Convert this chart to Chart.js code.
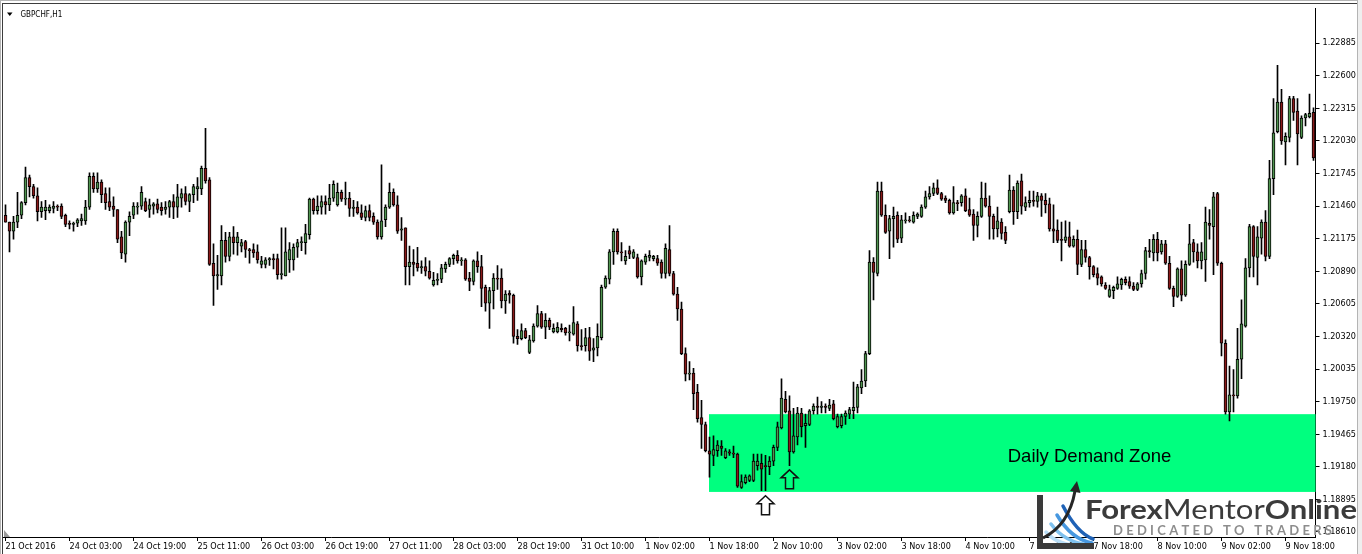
<!DOCTYPE html>
<html><head><meta charset="utf-8">
<script src="https://cdn.jsdelivr.net/npm/chart.js@4.4.1/dist/chart.umd.min.js"></script>
<style>html,body{margin:0;padding:0;background:#fff;overflow:hidden}#wrap{width:1362px;height:554px;position:relative}canvas{display:block}</style>
</head><body><div id="wrap"><canvas id="c" width="1362" height="554"></canvas></div>
<script>
// ---------- DATA (GBPCHF H1) ----------
const symbolTitle = 'GBPCHF,H1';
const xTickLabels = ['21 Oct 2016','24 Oct 03:00','24 Oct 19:00','25 Oct 11:00','26 Oct 03:00','26 Oct 19:00','27 Oct 11:00','28 Oct 03:00','28 Oct 19:00','31 Oct 10:00','1 Nov 02:00','1 Nov 18:00','2 Nov 10:00','3 Nov 02:00','3 Nov 18:00','4 Nov 10:00','7 Nov 02:00','7 Nov 18:00','8 Nov 10:00','9 Nov 02:00','9 Nov 18:00'];
const yTicks = [1.18610,1.18895,1.19180,1.19465,1.19750,1.20035,1.20320,1.20605,1.20890,1.21175,1.21460,1.21745,1.22030,1.22315,1.22600,1.22885];

const opens = [
1.2138,1.2132,1.2124,1.2132,1.2138,1.2149,1.2171,1.2163,1.2155,1.2141,
1.2142,1.2142,1.2144,1.2146,1.2146,1.2138,1.2131,1.2130,1.2131,1.2133,
1.2133,1.2145,1.2172,1.2161,1.2167,1.2157,1.2150,1.2146,1.2143,1.2119,
1.2104,1.2132,1.2138,1.2145,1.2146,1.2150,1.2143,1.2146,1.2148,1.2145,
1.2143,1.2145,1.2150,1.2145,1.2153,1.2157,1.2150,1.2156,1.2161,1.2161,
1.2179,1.2169,1.2096,1.2085,1.2085,1.2116,1.2102,1.2119,1.2114,1.2111,
1.2115,1.2108,1.2108,1.2106,1.2095,1.2095,1.2099,1.2100,1.2100,1.2086,
1.2085,1.2099,1.2099,1.2110,1.2114,1.2114,1.2121,1.2152,1.2142,1.2145,
1.2150,1.2147,1.2153,1.2147,1.2158,1.2152,1.2153,1.2144,1.2145,1.2140,
1.2136,1.2142,1.2137,1.2132,1.2119,1.2134,1.2145,1.2158,1.2147,1.2125,
1.2127,1.2093,1.2097,1.2096,1.2092,1.2093,1.2089,1.2077,1.2081,1.2082,
1.2091,1.2095,1.2100,1.2103,1.2098,1.2099,1.2083,1.2080,1.2098,1.2093,
1.2075,1.2061,1.2072,1.2083,1.2083,1.2063,1.2070,1.2068,1.2032,1.2030,
1.2037,1.2018,1.2028,1.2041,1.2052,1.2040,1.2046,1.2036,1.2036,1.2039,
1.2039,1.2035,1.2034,1.2043,1.2024,1.2024,1.2031,1.2020,1.2022,1.2031,
1.2075,1.2082,1.2106,1.2124,1.2106,1.2098,1.2107,1.2101,1.2101,1.2084,
1.2097,1.2101,1.2100,1.2100,1.2097,1.2087,1.2108,1.2087,1.2069,1.2056,
1.2017,1.1999,1.2000,1.1983,1.1961,1.1955,1.1932,1.1928,1.1932,1.1936,
1.1926,1.1931,1.1930,1.1929,1.1900,1.1904,1.1906,1.1906,1.1919,1.1921,
1.1919,1.1918,1.1923,1.1935,1.1952,1.1977,1.1967,1.1931,1.1944,1.1965,
1.1954,1.1955,1.1967,1.1971,1.1970,1.1971,1.1969,1.1973,1.1953,1.1954,
1.1962,1.1964,1.1967,1.1970,1.1987,1.1993,1.2017,1.2097,1.2087,1.2159,
1.2138,1.2124,1.2135,1.2138,1.2118,1.2133,1.2134,1.2132,1.2137,1.2137,
1.2145,1.2154,1.2157,1.2162,1.2157,1.2153,1.2151,1.2140,1.2149,1.2149,
1.2155,1.2143,1.2139,1.2129,1.2137,1.2153,1.2146,1.2137,1.2126,1.2132,
1.2123,1.2141,1.2160,1.2141,1.2168,1.2145,1.2149,1.2151,1.2150,1.2155,
1.2151,1.2148,1.2126,1.2125,1.2117,1.2116,1.2119,1.2111,1.2117,1.2095,
1.2108,1.2101,1.2093,1.2087,1.2084,1.2077,1.2067,1.2072,1.2074,1.2077,
1.2082,1.2080,1.2076,1.2073,1.2078,1.2087,1.2107,1.2105,1.2117,1.2106,
1.2113,1.2096,1.2074,1.2067,1.2091,1.2068,1.2095,1.2114,1.2106,1.2098,
1.2099,1.2131,1.2128,1.2157,1.2096,1.2026,1.1966,1.1981,1.1980,1.2012,
1.2041,1.2092,1.2128,1.2101,1.2118,1.2132,1.2102,1.2170,1.2211,1.2237,
1.2202,1.2206,1.2240,1.2229,1.2206,1.2223,1.2224,1.2228];

const highs = [
1.2147,1.2132,1.2137,1.2158,1.2150,1.2180,1.2173,1.2165,1.2162,1.2150,
1.2151,1.2147,1.2150,1.2147,1.2148,1.2139,1.2133,1.2132,1.2135,1.2139,
1.2151,1.2175,1.2175,1.2175,1.2169,1.2162,1.2162,1.2154,1.2143,1.2124,
1.2133,1.2141,1.2149,1.2149,1.2163,1.2153,1.2152,1.2149,1.2152,1.2149,
1.2150,1.2151,1.2156,1.2165,1.2161,1.2163,1.2157,1.2165,1.2171,1.2181,
1.2214,1.2171,1.2113,1.2103,1.2129,1.2123,1.2123,1.2128,1.2123,1.2117,
1.2116,1.2109,1.2113,1.2112,1.2102,1.2101,1.2101,1.2104,1.2104,1.2127,
1.2127,1.2114,1.2113,1.2117,1.2119,1.2130,1.2153,1.2153,1.2155,1.2155,
1.2155,1.2165,1.2168,1.2166,1.2160,1.2167,1.2158,1.2151,1.2150,1.2147,
1.2146,1.2147,1.2140,1.2134,1.2182,1.2147,1.2166,1.2161,1.2155,1.2136,
1.2127,1.2111,1.2108,1.2110,1.2098,1.2101,1.2098,1.2088,1.2087,1.2095,
1.2097,1.2101,1.2104,1.2107,1.2101,1.2100,1.2088,1.2099,1.2106,1.2103,
1.2077,1.2075,1.2087,1.2094,1.2091,1.2072,1.2072,1.2069,1.2038,1.2043,
1.2039,1.2033,1.2043,1.2059,1.2054,1.2052,1.2048,1.2043,1.2044,1.2043,
1.2040,1.2042,1.2058,1.2045,1.2038,1.2039,1.2040,1.2030,1.2043,1.2077,
1.2085,1.2108,1.2126,1.2126,1.2114,1.2107,1.2111,1.2108,1.2104,1.2099,
1.2104,1.2107,1.2103,1.2103,1.2099,1.2113,1.2129,1.2089,1.2075,1.2062,
1.2022,1.2010,1.2004,1.1990,1.1976,1.1957,1.1944,1.1945,1.1941,1.1941,
1.1934,1.1933,1.1936,1.1930,1.1911,1.1911,1.1911,1.1929,1.1929,1.1929,
1.1928,1.1927,1.1937,1.1957,1.1995,1.1984,1.1980,1.1969,1.1970,1.1969,
1.1964,1.1968,1.1973,1.1979,1.1975,1.1973,1.1977,1.1976,1.1964,1.1964,
1.1967,1.1970,1.1992,1.1990,1.2003,1.2019,1.2107,1.2101,1.2167,1.2167,
1.2147,1.2138,1.2145,1.2141,1.2138,1.2140,1.2137,1.2141,1.2140,1.2147,
1.2159,1.2163,1.2166,1.2169,1.2158,1.2155,1.2152,1.2163,1.2151,1.2156,
1.2161,1.2153,1.2143,1.2141,1.2167,1.2166,1.2155,1.2139,1.2145,1.2135,
1.2128,1.2173,1.2163,1.2168,1.2174,1.2154,1.2159,1.2159,1.2158,1.2157,
1.2157,1.2153,1.2147,1.2134,1.2132,1.2133,1.2132,1.2120,1.2125,1.2116,
1.2116,1.2102,1.2094,1.2092,1.2085,1.2079,1.2077,1.2076,1.2084,1.2083,
1.2084,1.2084,1.2079,1.2079,1.2090,1.2110,1.2117,1.2121,1.2123,1.2116,
1.2116,1.2102,1.2076,1.2092,1.2098,1.2098,1.2130,1.2117,1.2113,1.2114,
1.2145,1.2143,1.2158,1.2158,1.2097,1.2029,1.2006,1.2003,1.2039,1.2064,
1.2100,1.2130,1.2129,1.2128,1.2134,1.2142,1.2186,1.2240,1.2269,1.2248,
1.2210,1.2242,1.2242,1.2240,1.2225,1.2227,1.2244,1.2232];

const lows = [
1.2132,1.2106,1.2117,1.2127,1.2135,1.2147,1.2154,1.2153,1.2133,1.2136,
1.2134,1.2140,1.2140,1.2142,1.2135,1.2128,1.2126,1.2124,1.2128,1.2129,
1.2130,1.2143,1.2158,1.2158,1.2149,1.2143,1.2142,1.2137,1.2114,1.2100,
1.2097,1.2120,1.2135,1.2139,1.2143,1.2141,1.2136,1.2139,1.2140,1.2138,
1.2139,1.2136,1.2135,1.2136,1.2145,1.2147,1.2141,1.2149,1.2151,1.2156,
1.2166,1.2094,1.2059,1.2073,1.2077,1.2097,1.2098,1.2104,1.2103,1.2106,
1.2101,1.2096,1.2101,1.2096,1.2092,1.2092,1.2094,1.2091,1.2082,1.2082,
1.2085,1.2088,1.2090,1.2101,1.2107,1.2104,1.2117,1.2139,1.2139,1.2139,
1.2139,1.2142,1.2150,1.2146,1.2150,1.2147,1.2137,1.2137,1.2139,1.2134,
1.2133,1.2133,1.2130,1.2117,1.2117,1.2128,1.2144,1.2146,1.2122,1.2116,
1.2077,1.2077,1.2085,1.2089,1.2087,1.2085,1.2082,1.2076,1.2077,1.2079,
1.2088,1.2093,1.2095,1.2096,1.2094,1.2081,1.2072,1.2077,1.2088,1.2058,
1.2054,1.2039,1.2056,1.2073,1.2057,1.2052,1.2061,1.2026,1.2025,1.2029,
1.2030,1.2017,1.2027,1.2040,1.2039,1.2030,1.2038,1.2035,1.2035,1.2036,
1.2033,1.2028,1.2033,1.2019,1.2020,1.2019,1.2011,1.2010,1.2015,1.2029,
1.2074,1.2078,1.2095,1.2104,1.2098,1.2095,1.2100,1.2100,1.2083,1.2077,
1.2095,1.2098,1.2098,1.2094,1.2083,1.2083,1.2085,1.2068,1.2046,1.2016,
1.1993,1.1994,1.1968,1.1957,1.1934,1.1931,1.1909,1.1919,1.1927,1.1928,
1.1925,1.1928,1.1926,1.1900,1.1899,1.1903,1.1905,1.1905,1.1915,1.1897,
1.1897,1.1911,1.1919,1.1932,1.1951,1.1965,1.1919,1.1930,1.1937,1.1944,
1.1935,1.1954,1.1964,1.1964,1.1965,1.1965,1.1967,1.1959,1.1952,1.1952,
1.1955,1.1960,1.1960,1.1965,1.1982,1.1988,1.2016,1.2064,1.2085,1.2137,
1.2122,1.2100,1.2110,1.2114,1.2114,1.2131,1.2132,1.2131,1.2135,1.2136,
1.2144,1.2152,1.2155,1.2156,1.2151,1.2149,1.2139,1.2139,1.2142,1.2146,
1.2141,1.2137,1.2116,1.2119,1.2136,1.2145,1.2117,1.2117,1.2119,1.2117,
1.2113,1.2140,1.2130,1.2135,1.2139,1.2142,1.2145,1.2146,1.2145,1.2137,
1.2140,1.2124,1.2114,1.2114,1.2098,1.2114,1.2110,1.2110,1.2086,1.2093,
1.2097,1.2082,1.2084,1.2077,1.2076,1.2073,1.2066,1.2065,1.2073,1.2073,
1.2077,1.2074,1.2072,1.2072,1.2075,1.2082,1.2101,1.2098,1.2098,1.2104,
1.2095,1.2073,1.2058,1.2066,1.2063,1.2067,1.2094,1.2097,1.2092,1.2091,
1.2080,1.2117,1.2086,1.2094,1.2015,1.1964,1.1958,1.1966,1.1978,1.1995,
1.2040,1.2084,1.2084,1.2077,1.2104,1.2098,1.2100,1.2156,1.2210,1.2200,
1.2182,1.2202,1.2221,1.2182,1.2205,1.2216,1.2223,1.2186];

const closes = [
1.2132,1.2124,1.2132,1.2138,1.2149,1.2171,1.2163,1.2155,1.2141,1.2145,
1.2145,1.2145,1.2146,1.2145,1.2137,1.2130,1.2130,1.2131,1.2134,1.2135,
1.2145,1.2172,1.2161,1.2167,1.2156,1.2149,1.2145,1.2143,1.2117,1.2105,
1.2132,1.2137,1.2146,1.2146,1.2158,1.2142,1.2147,1.2148,1.2143,1.2142,
1.2145,1.2150,1.2145,1.2154,1.2157,1.2150,1.2156,1.2163,1.2163,1.2179,
1.2168,1.2095,1.2085,1.2086,1.2116,1.2102,1.2119,1.2114,1.2119,1.2114,
1.2108,1.2107,1.2105,1.2099,1.2098,1.2099,1.2100,1.2099,1.2086,1.2087,
1.2106,1.2108,1.2110,1.2114,1.2115,1.2122,1.2152,1.2142,1.2146,1.2150,
1.2147,1.2153,1.2165,1.2158,1.2152,1.2153,1.2144,1.2145,1.2140,1.2136,
1.2142,1.2136,1.2132,1.2119,1.2133,1.2145,1.2158,1.2147,1.2124,1.2126,
1.2093,1.2097,1.2095,1.2092,1.2093,1.2089,1.2083,1.2081,1.2082,1.2092,
1.2095,1.2100,1.2103,1.2098,1.2099,1.2082,1.2080,1.2098,1.2093,1.2074,
1.2061,1.2072,1.2083,1.2082,1.2063,1.2069,1.2068,1.2032,1.2030,1.2037,
1.2031,1.2029,1.2041,1.2052,1.2040,1.2046,1.2040,1.2039,1.2040,1.2038,
1.2035,1.2036,1.2044,1.2024,1.2023,1.2031,1.2019,1.2022,1.2032,1.2075,
1.2083,1.2106,1.2124,1.2106,1.2105,1.2102,1.2104,1.2106,1.2084,1.2098,
1.2102,1.2103,1.2102,1.2096,1.2087,1.2109,1.2087,1.2069,1.2056,1.2017,
1.1999,1.2000,1.1982,1.1960,1.1955,1.1932,1.1929,1.1933,1.1937,1.1934,
1.1932,1.1930,1.1929,1.1901,1.1905,1.1909,1.1910,1.1923,1.1923,1.1916,
1.1918,1.1923,1.1935,1.1953,1.1978,1.1966,1.1931,1.1945,1.1965,1.1953,
1.1956,1.1967,1.1971,1.1970,1.1971,1.1970,1.1972,1.1960,1.1962,1.1962,
1.1965,1.1968,1.1970,1.1988,1.1993,1.2017,1.2097,1.2088,1.2159,1.2138,
1.2123,1.2135,1.2137,1.2117,1.2134,1.2134,1.2133,1.2138,1.2139,1.2145,
1.2154,1.2157,1.2162,1.2157,1.2152,1.2151,1.2140,1.2149,1.2148,1.2155,
1.2142,1.2138,1.2129,1.2137,1.2153,1.2146,1.2137,1.2126,1.2133,1.2122,
1.2116,1.2160,1.2141,1.2166,1.2146,1.2149,1.2151,1.2150,1.2155,1.2151,
1.2147,1.2126,1.2124,1.2116,1.2116,1.2119,1.2111,1.2117,1.2095,1.2108,
1.2101,1.2093,1.2086,1.2083,1.2078,1.2074,1.2073,1.2075,1.2078,1.2082,
1.2079,1.2076,1.2073,1.2078,1.2087,1.2107,1.2106,1.2117,1.2105,1.2113,
1.2096,1.2074,1.2067,1.2091,1.2068,1.2095,1.2113,1.2106,1.2098,1.2106,
1.2132,1.2129,1.2154,1.2096,1.2026,1.1966,1.1981,1.1980,1.2012,1.2043,
1.2092,1.2128,1.2102,1.2119,1.2132,1.2102,1.2170,1.2210,1.2237,1.2203,
1.2207,1.2240,1.2228,1.2209,1.2223,1.2226,1.2227,1.2188];

// Annotations (data coordinates)
const demandZone = { startIndex: 176, top: 1.19640, bottom: 1.18960, label: 'Daily Demand Zone', labelIndex: 271, labelPrice: 1.19225 };
const upArrows = [ { index: 190, price: 1.18926, kind: 'white' }, { index: 196, price: 1.19153, kind: 'zone' } ];
const Y_MIN = 1.185658, Y_MAX = 1.231886;

// ---------- STYLE ----------
const FONT = "'DejaVu Sans Condensed', 'DejaVu Sans', sans-serif";
const BULL = '#4f944f', BEAR = '#8a1a1a', ZONE = '#00ff7f';
const TICKS_EVERY = 16;
const candleLabels = opens.map((_, i) => i % TICKS_EVERY === 0 ? (xTickLabels[i / TICKS_EVERY] || '') : '');

function drawUpArrow(ctx, cx, top, fill) {
  ctx.beginPath();
  ctx.moveTo(cx, top);
  ctx.lineTo(cx + 8.5, top + 8);
  ctx.lineTo(cx + 4, top + 8);
  ctx.lineTo(cx + 4, top + 19);
  ctx.lineTo(cx - 4, top + 19);
  ctx.lineTo(cx - 4, top + 8);
  ctx.lineTo(cx - 8.5, top + 8);
  ctx.closePath();
  ctx.fillStyle = fill; ctx.fill();
  ctx.lineWidth = 1.5; ctx.strokeStyle = '#111'; ctx.lineJoin = 'miter'; ctx.stroke();
}

function drawLogo(ctx) {
  ctx.save();
  const fan = [
    ['#b8ddf6', [1046, 532], [1059, 547], [1087, 546]],
    ['#7fc1ee', [1051, 524], [1065, 543], [1090, 545]],
    ['#4798e0', [1057, 515], [1071, 539], [1092, 543]],
    ['#1f62b6', [1063, 506], [1077, 533], [1093, 539]]
  ];
  ctx.lineCap = 'round'; ctx.lineWidth = 3.5;
  fan.forEach(([c, s, q, e]) => { ctx.strokeStyle = c; ctx.beginPath(); ctx.moveTo(s[0], s[1]); ctx.quadraticCurveTo(q[0], q[1], e[0], e[1]); ctx.stroke(); });
  ctx.fillStyle = '#3a3a3a';
  ctx.fillRect(1037, 495, 6, 54);
  ctx.fillRect(1037, 543, 57, 6);
  ctx.strokeStyle = '#262626'; ctx.lineWidth = 3; ctx.lineCap = 'butt';
  ctx.beginPath(); ctx.moveTo(1043, 538); ctx.quadraticCurveTo(1069, 525, 1075, 491); ctx.stroke();
  ctx.fillStyle = '#262626';
  ctx.beginPath(); ctx.moveTo(1077, 481); ctx.lineTo(1080.5, 493); ctx.lineTo(1070, 491); ctx.closePath(); ctx.fill();
  const fam = "Lato, 'Open Sans', sans-serif";
  const parts = [['Forex', '700'], ['Mentor', '400'], ['Online', '700']];
  const size = 27;
  const widths = parts.map(([t, w]) => { ctx.font = `${w} ${size}px ${fam}`; return ctx.measureText(t).width; });
  const total = widths.reduce((a, b) => a + b, 0);
  ctx.save();
  ctx.translate(1085, 519); ctx.scale(272 / total, 1);
  ctx.fillStyle = '#3b3b3b'; ctx.textBaseline = 'alphabetic'; ctx.textAlign = 'left';
  let px = 0;
  parts.forEach(([t, w], k) => { ctx.font = `${w} ${size}px ${fam}`; ctx.fillText(t, px, 0); px += widths[k]; });
  ctx.restore();
  const tag = 'DEDICATED TO TRADERS';
  ctx.font = `700 13px ${fam}`; ctx.fillStyle = '#8d8d8d';
  const cw = [...tag].map(ch => ctx.measureText(ch).width);
  const sum = cw.reduce((a, b) => a + b, 0);
  const gap = (219 - sum) / (tag.length - 1);
  let tx = 1113;
  [...tag].forEach((ch, k) => { ctx.fillText(ch, tx, 535); tx += cw[k] + gap; });
  ctx.restore();
}

const overlay = {
  id: 'overlay',
  beforeDatasetsDraw(chart) {
    const { ctx, chartArea: a, scales: { x, y } } = chart;
    ctx.save();
    const left = Math.floor(x.getPixelForValue(demandZone.startIndex));
    const top = y.getPixelForValue(demandZone.top), bot = y.getPixelForValue(demandZone.bottom);
    ctx.fillStyle = ZONE;
    ctx.fillRect(left, top, a.right - left, bot - top);
    ctx.restore();
  },
  afterDatasetsDraw(chart) {
    const { ctx, scales: { x, y } } = chart;
    ctx.save();
    ctx.font = "18.5px 'Liberation Sans', Arial, sans-serif";
    ctx.fillStyle = '#000'; ctx.textAlign = 'center'; ctx.textBaseline = 'alphabetic';
    ctx.fillText(demandZone.label, x.getPixelForValue(demandZone.labelIndex), y.getPixelForValue(demandZone.labelPrice));
    upArrows.forEach(a => drawUpArrow(ctx, Math.floor(x.getPixelForValue(a.index)) + 0.5, y.getPixelForValue(a.price), a.kind === 'white' ? '#ffffff' : ZONE));
    ctx.restore();
  },
  afterDraw(chart) {
    const { ctx } = chart;
    ctx.save();
    ctx.fillStyle = '#b4b4b4';
    ctx.fillRect(0, 0, 1, 554); ctx.fillRect(0, 0, 1362, 1);
    ctx.fillStyle = '#3c3c3c';
    ctx.fillRect(2, 3, 1, 551); ctx.fillRect(2, 3, 1355, 1);
    ctx.fillStyle = '#efefef'; ctx.fillRect(1357, 0, 5, 554);
    ctx.fillStyle = '#b4b4b4'; ctx.fillRect(1357, 0, 1, 554);
    ctx.fillStyle = '#9a9a9a';
    ctx.beginPath(); ctx.moveTo(4, 530); ctx.lineTo(4, 537); ctx.lineTo(10, 537); ctx.closePath(); ctx.fill();
    ctx.fillStyle = '#000';
    ctx.beginPath(); ctx.moveTo(7, 12.5); ctx.lineTo(12.5, 12.5); ctx.lineTo(9.75, 16); ctx.closePath(); ctx.fill();
    ctx.font = `8px ${FONT}`; ctx.textBaseline = 'middle'; ctx.textAlign = 'left';
    ctx.fillText(symbolTitle, 20.5, 14.5);
    ctx.restore();
    drawLogo(ctx);
  }
};

new Chart(document.getElementById('c'), {
  type: 'bar',
  data: {
    labels: candleLabels,
    datasets: [
      { label: 'wick', data: lows.map((l, i) => [l, highs[i]]), backgroundColor: '#000', borderWidth: 0, barThickness: 1, grouped: false, order: 2 },
      { label: 'body', data: opens.map((o, i) => [o, closes[i]]),
        backgroundColor: opens.map((o, i) => closes[i] >= o ? BULL : BEAR),
        borderColor: '#000', borderWidth: 1, borderSkipped: false, barThickness: 3, minBarLength: 1, grouped: false, order: 1 }
    ]
  },
  options: {
    responsive: false, animation: false, devicePixelRatio: 1,
    layout: { padding: { left: 3.5, top: 4, right: 0, bottom: 0 } },
    plugins: { legend: { display: false }, tooltip: { enabled: false } },
    scales: {
      x: {
        type: 'category', offset: true,
        grid: { display: true, drawOnChartArea: false, drawTicks: true, tickLength: 4, color: '#000', offset: false },
        border: { display: true, color: '#000', width: 1 },
        ticks: { autoSkip: false, maxRotation: 0, minRotation: 0, align: 'start', padding: 0, color: '#000', font: { family: FONT, size: 9 } },
        afterBuildTicks: s => { s.ticks = s.ticks.filter(t => candleLabels[t.value] !== ''); },
        afterFit: s => { s.height = 17; }
      },
      y: {
        type: 'linear', position: 'right', min: Y_MIN, max: Y_MAX,
        grid: { display: true, drawOnChartArea: false, drawTicks: true, tickLength: 4, color: '#000' },
        border: { display: true, color: '#000', width: 1 },
        ticks: { autoSkip: false, padding: 3, color: '#000', font: { family: FONT, size: 9 }, callback: v => Number(v).toFixed(5) },
        afterBuildTicks: s => { s.ticks = yTicks.map(v => ({ value: v })); },
        afterFit: s => { s.width = 46.5; }
      }
    }
  },
  plugins: [overlay]
});
</script></body></html>
